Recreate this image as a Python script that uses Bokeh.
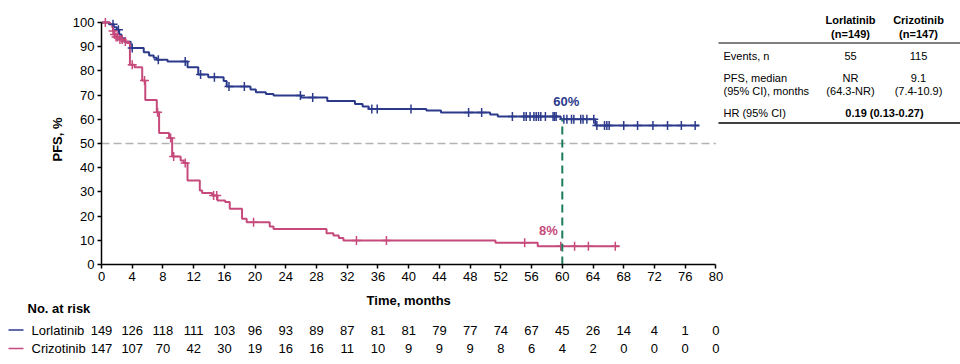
import numpy as np
from bokeh.plotting import figure
from bokeh.models import Range1d, FixedTicker
from bokeh.layouts import column
from bokeh.embed import file_html
from bokeh.resources import INLINE
from bokeh.core.properties import value

# ---------------- data ----------------
# Lorlatinib KM steps (time in months, PFS %)
LOR_T = [0, 1.0, 1.6, 2.0, 2.3, 2.6, 3.0, 3.8, 5.5, 6.2, 6.8, 7.2, 8.6, 11.2, 12.6, 13.9,
         15.9, 16.3, 19.4, 20.1, 21.4, 22.4, 26.0, 29.4, 33.0, 34.0, 34.8, 42.3, 44.2,
         50.6, 51.6, 59.8, 64.3]
LOR_S = [100, 99.3, 98.0, 97.0, 95.0, 93.5, 92.0, 89.5, 87.7, 86.4, 85.4, 84.6, 83.9, 81.5,
         78.5, 77.4, 75.8, 73.6, 72.3, 71.2, 70.5, 69.8, 69.0, 67.6, 66.3, 65.3, 64.3, 63.6,
         62.8, 62.0, 61.2, 60.0, 57.4]
LOR_END = 77.8
LOR_CENSOR = [1.5, 2.2, 4.0, 7.4, 10.9, 12.9, 14.7, 16.6, 18.6, 25.9, 27.5, 35.2, 35.9, 40.3,
              47.8, 49.5, 53.5, 55.0, 55.3, 55.8, 56.3, 56.6, 56.9, 57.2, 57.8, 58.8, 59.0,
              59.2, 60.2, 60.6, 61.2, 61.5, 62.4, 62.7, 63.2, 64.1, 64.5, 65.5, 65.8, 66.1,
              68.0, 69.8, 71.8, 73.7, 75.5, 77.3]

# Crizotinib KM steps
CRI_T = [0, 1.1, 1.4, 1.5, 1.6, 1.8, 2.3, 2.9, 3.3, 3.7, 4.3, 5.3, 5.7, 7.2, 7.5, 8.8, 9.2,
         10.3, 10.7, 11.2, 12.8, 13.1, 14.4, 15.1, 16.1, 16.7, 18.3, 18.9, 21.9, 22.4, 29.3,
         30.2, 30.9, 31.5, 51.3, 56.8]
CRI_S = [100, 99.3, 98.0, 96.5, 95.0, 94.0, 93.0, 92.1, 91.5, 82.5, 81.5, 76.0, 68.0, 62.9,
         54.3, 52.3, 44.6, 43.0, 41.9, 34.7, 30.6, 29.5, 28.5, 26.4, 25.8, 23.0, 18.9, 17.5,
         15.7, 14.7, 12.9, 12.0, 11.0, 9.9, 9.0, 7.5]
CRI_END = 67.4
CRI_CENSOR = [0.5, 1.5, 1.7, 1.9, 2.1, 2.4, 2.7, 3.1, 4.0, 5.6, 7.3, 9.0, 9.4, 10.9, 14.6,
              15.0, 19.8, 33.2, 37.1, 55.1, 59.8, 61.6, 63.4, 66.9]

LANDMARK = 60
LOR_LABEL = "60%"
CRI_LABEL = "8%"
MEDIAN_LINE = 50

X_TICKS = list(range(0, 81, 4))
Y_TICKS = list(range(0, 101, 10))

RISK_T = X_TICKS
LOR_RISK = [149, 126, 118, 111, 103, 96, 93, 89, 87, 81, 81, 79, 77, 74, 67, 45, 26, 14, 4, 1, 0]
CRI_RISK = [147, 107, 70, 42, 30, 19, 16, 16, 11, 10, 9, 9, 9, 8, 6, 4, 2, 0, 0, 0, 0]

ARMS = ["Lorlatinib", "Crizotinib"]
ARM_N = ["(n=149)", "(n=147)"]
EVENTS = ["55", "115"]
MEDIAN = ["NR", "9.1"]
MEDIAN_CI = ["(64.3-NR)", "(7.4-10.9)"]
HR_TEXT = "0.19 (0.13-0.27)"

# ---------------- style / layout ----------------
FONT = "Liberation Sans"
BLUE = "#2c3a8c"
RED = "#c64a7b"
GREEN = "#1e7b5c"
GREY = "#b3b3b3"

W = 960
PXM = 7.68       # px per month
PXP = 2.42       # px per %
LEFT = 101
RIGHT = 0
TOP = 14
FRAME_H = 250
BOTTOM = 26
H1 = TOP + FRAME_H + BOTTOM
H2 = 364 - H1

x_end = (W - LEFT - RIGHT) / PXM
y_end = FRAME_H / PXP


def mx(px):
    return (px - LEFT) / PXM


def my(py):
    return (TOP + FRAME_H - py) / PXP


def ry(py):
    return py - H1


def km_at(T, S, t):
    idx = np.searchsorted(np.asarray(T), np.asarray(t), side="right") - 1
    return np.asarray(S)[idx]


def txt(fig, xs, ys, texts, size="13px", bold=False, align="center", color="black", **kw):
    fig.text(x=xs, y=ys, text=texts, text_font=value(FONT), text_font_size=size,
             text_font_style="bold" if bold else "normal", text_align=align,
             text_baseline="middle", text_color=color, **kw)


p = figure(width=W, height=H1, x_range=Range1d(0, x_end), y_range=Range1d(0, y_end),
           output_backend="svg", toolbar_location=None,
           min_border_left=LEFT, min_border_right=RIGHT, min_border_top=TOP,
           min_border_bottom=BOTTOM)
p.frame_align = False
p.grid.visible = False
p.outline_line_color = None

p.xaxis.ticker = FixedTicker(ticks=X_TICKS)
p.xaxis.bounds = (X_TICKS[0], X_TICKS[-1])
p.yaxis.ticker = FixedTicker(ticks=Y_TICKS)
p.yaxis.bounds = (Y_TICKS[0], Y_TICKS[-1])
p.yaxis.axis_label = "PFS, %"
p.yaxis.axis_label_text_font = FONT
p.yaxis.axis_label_text_font_size = "13px"
p.yaxis.axis_label_text_font_style = "bold"
p.yaxis.axis_label_text_color = "black"
p.yaxis.axis_label_standoff = 5
for ax in (p.xaxis, p.yaxis):
    ax.axis_line_width = 1.5
    ax.axis_line_color = "black"
    ax.major_tick_line_width = 1.5
    ax.major_tick_line_color = "black"
    ax.major_tick_out = 4
    ax.major_tick_in = 0
    ax.minor_tick_line_color = None
    ax.major_label_text_font = FONT
    ax.major_label_text_font_size = "13px"
    ax.major_label_text_color = "black"
    ax.major_label_standoff = 3

# median reference line across the time axis
p.segment(x0=[X_TICKS[0]], x1=[X_TICKS[-1]], y0=[MEDIAN_LINE], y1=[MEDIAN_LINE],
          line_color=GREY, line_dash="8 4", line_width=1.5)

# curves
p.step(x=LOR_T + [LOR_END], y=LOR_S + [LOR_S[-1]], mode="after", line_color=BLUE, line_width=2)
p.step(x=CRI_T + [CRI_END], y=CRI_S + [CRI_S[-1]], mode="after", line_color=RED, line_width=2)
p.scatter(x=LOR_CENSOR, y=km_at(LOR_T, LOR_S, LOR_CENSOR), marker="cross", size=9,
          line_color=BLUE, line_width=1.5)
p.scatter(x=CRI_CENSOR, y=km_at(CRI_T, CRI_S, CRI_CENSOR), marker="cross", size=9,
          line_color=RED, line_width=1.5)

# landmark
lor60 = float(km_at(LOR_T, LOR_S, [LANDMARK])[0])
cri60 = float(km_at(CRI_T, CRI_S, [LANDMARK])[0])
p.segment(x0=[LANDMARK], y0=[0], x1=[LANDMARK], y1=[lor60], line_color=GREEN,
          line_dash="8 5", line_width=2)
txt(p, [LANDMARK], [lor60], [LOR_LABEL], bold=True, color=BLUE, y_offset=-18, x_offset=4)
txt(p, [LANDMARK], [cri60], [CRI_LABEL], bold=True, color=RED, y_offset=-16, x_offset=-14)

# summary table (top right)
tx0, tx1 = mx(718), mx(960)
p.segment(x0=[tx0, tx0], x1=[tx1, tx1], y0=[my(8.5), my(122.5)], y1=[my(8.5), my(122.5)],
          line_color="black", line_width=1.5)
p.segment(x0=[tx0], x1=[tx1], y0=[my(42.5)], y1=[my(42.5)], line_color="black", line_width=1)
c1, c2, cl = mx(850), mx(918), mx(723)
txt(p, [c1, c2, c1, c2], [my(19.5), my(19.5), my(33.5), my(33.5)],
    [ARMS[0], ARMS[1], ARM_N[0], ARM_N[1]], size="11px", bold=True)
txt(p, [cl] * 4, [my(55), my(77), my(90.5), my(112)],
    ["Events, n", "PFS, median", "(95% CI), months", "HR (95% CI)"], size="11px", align="left")
txt(p, [c1, c2, c1, c2, c1, c2], [my(55), my(55), my(77), my(77), my(90.5), my(90.5)],
    [EVENTS[0], EVENTS[1], MEDIAN[0], MEDIAN[1], MEDIAN_CI[0], MEDIAN_CI[1]], size="11px")
txt(p, [(c1 + c2) / 2], [my(112)], [HR_TEXT], size="11px", bold=True)

# ---------------- risk table ----------------
r = figure(width=W, height=H2, x_range=Range1d(-LEFT / PXM, x_end), y_range=Range1d(H2, 0),
           x_axis_location=None, y_axis_location=None, output_backend="svg",
           toolbar_location=None, min_border_left=0, min_border_right=RIGHT,
           min_border_top=0, min_border_bottom=0)
r.frame_align = False
r.grid.visible = False
r.outline_line_color = None

txt(r, [(X_TICKS[0] + X_TICKS[-1]) / 2], [ry(300)], ["Time, months"], bold=True)
txt(r, [mx(27)], [ry(308)], ["No. at risk"], bold=True, align="left")
row_y = [ry(329.5), ry(348)]
r.segment(x0=[mx(8), mx(8)], x1=[mx(23), mx(23)], y0=row_y, y1=row_y,
          line_color=[BLUE, RED], line_width=1.5)
txt(r, [mx(31), mx(31)], row_y, ARMS, align="left")
txt(r, RISK_T, [row_y[0]] * len(RISK_T), [str(v) for v in LOR_RISK])
txt(r, RISK_T, [row_y[1]] * len(RISK_T), [str(v) for v in CRI_RISK])

layout = column(p, r)
open("out.html", "w").write(file_html(layout, INLINE))
